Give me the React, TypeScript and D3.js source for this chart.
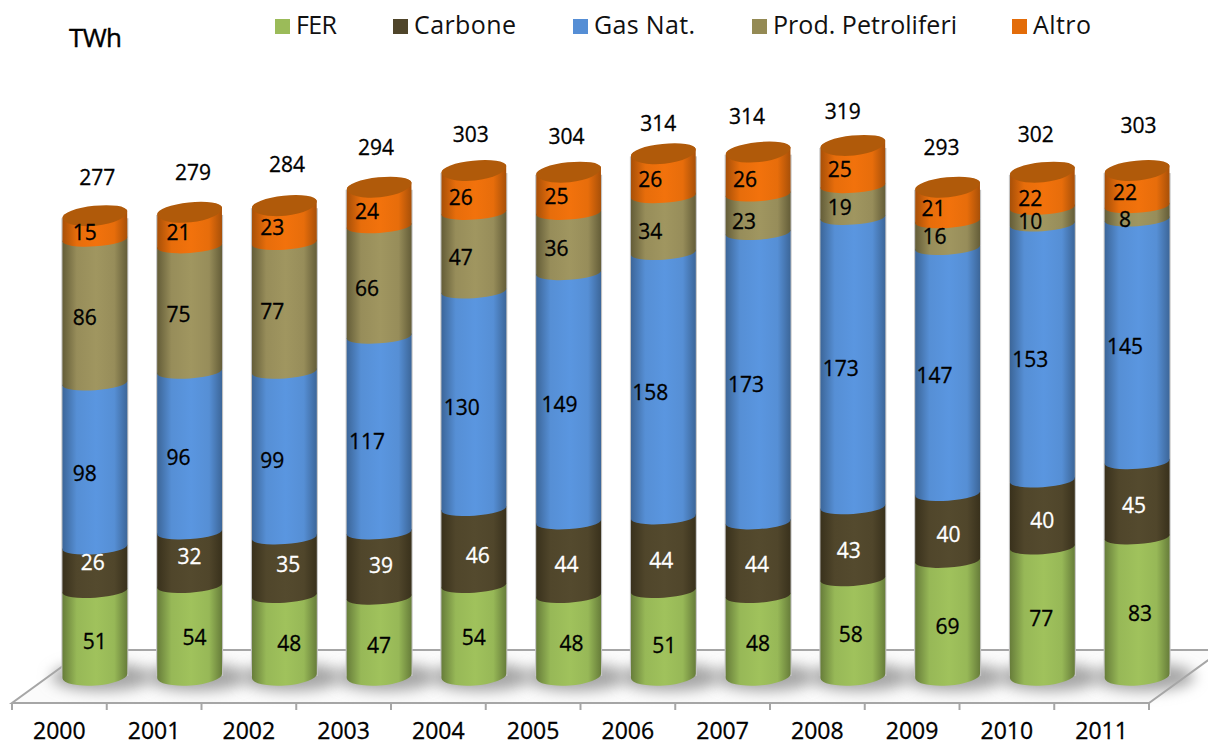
import { useEffect, useRef } from "react";
import * as d3 from "d3";

const years = ["2000", "2001", "2002", "2003", "2004", "2005", "2006", "2007", "2008", "2009", "2010", "2011"];
const totals = [277, 279, 284, 294, 303, 304, 314, 314, 319, 293, 302, 303];

const fer = [51, 54, 48, 47, 54, 48, 51, 48, 58, 69, 77, 83];
const carbone = [26, 32, 35, 39, 46, 44, 44, 44, 43, 40, 40, 45];
const gasNat = [98, 96, 99, 117, 130, 149, 158, 173, 173, 147, 153, 145];
const prodPetroliferi = [86, 75, 77, 66, 47, 36, 34, 23, 19, 16, 10, 8];
const altro = [15, 21, 23, 24, 26, 25, 26, 26, 25, 21, 22, 22];

const seriesNames = ["FER", "Carbone", "Gas Nat.", "Prod. Petroliferi", "Altro"];
const seriesValues = [fer, carbone, gasNat, prodPetroliferi, altro];

const swatchColors = ["#9bbb59", "#4f452a", "#558ed5", "#948a54", "#e36c09"];
const midColors = ["#a0c25c", "#544a2e", "#5a96e0", "#a09660", "#f2720c"];
const edgeColors = ["#677d3a", "#39311c", "#3c6699", "#645d38", "#a85008"];
const labelColors = ["#000", "#fff", "#000", "#000", "#000"];
const legendX = [275, 393, 573, 752, 1012];
const legendWidths = [41, 102, 101, 184, 58];

// the labels were placed by hand in the original, so each one gets a nudge
const labelDx = [
  [0, 5, 5, 0, 0, 3, 1, 0, -2, 0, -1, 3],
  [-2, 0, 4, 2, 4, -2, -2, -1, -4, 1, 0, -3],
  [-10, -11, -12, -12, -12, -9, -13, -12, -12, -13, -12, -12],
  [-10, -11, -12, -12, -13, -12, -13, -14, -13, -13, -12, -12],
  [-10, -11, -12, -12, -13, -12, -13, -13, -13, -14, -12, -12],
];
const labelDy = [
  [8, 7, 8, 9, 7, 8, 12, 8, 7, 8, 7, 7],
  [-6, -2, -2, 1, 8, 6, 7, 6, 7, 7, 7, 6],
  [8, 6, 6, 7, 7, 7, 8, 7, 6, 5, 7, 6],
  [6, 6, 4, 7, 6, 6, 7, 8, 6, 2, 6, 7],
  [6, 4, 4, 6, 7, 5, 5, 7, 5, 5, 9, 5],
];
const totalDx = [2.5, 3.5, 2.7, -3, -3, -2, -5, -11, -10, -6, -6.5, 1.5];
const totalDy = [-37, -38, -40, -38, -35, -34, -29, -34, -33, -38, -36, -44];

const W = 1208;
const H = 742;
const FONT = "'Open Sans', 'Noto Sans', sans-serif";

const App = () => {
  const ref = useRef<SVGSVGElement>(null);

  useEffect(() => {
    const svg = d3.select(ref.current);
    svg.selectAll("*").remove();

    const floorY = 703;
    const depthX = 73;
    const depthY = 53;
    const barShiftX = 35.5;
    const barRx = 32.5;
    const tilt = -4;
    const capTilt = -6;
    const sideRy = 7; // the joints between the segments
    const bottomRy = 9.5;

    const x = d3.scaleBand().domain(years).range([12, 1149]);
    const y = d3.scaleLinear().domain([0, 100]).range([676, 676 - 167.3]);
    const cx = (i: number) => x(years[i])! + x.bandwidth() / 2 + barShiftX;

    const rad = (tilt * Math.PI) / 180;
    const ex = barRx * Math.cos(rad);
    const ey = barRx * Math.sin(rad);
    const capRad = (capTilt * Math.PI) / 180;
    const capEx = barRx * Math.cos(capRad);
    const capEy = barRx * Math.sin(capRad);

    const defs = svg.append("defs");
    seriesNames.forEach((_, s) => {
      const g = defs.append("linearGradient").attr("id", `cyl${s}`);
      const near = d3.interpolateRgb(edgeColors[s], midColors[s])(0.85);
      g.append("stop").attr("offset", "0%").attr("stop-color", edgeColors[s]);
      g.append("stop").attr("offset", "22%").attr("stop-color", near);
      g.append("stop").attr("offset", "52%").attr("stop-color", midColors[s]);
      g.append("stop").attr("offset", "80%").attr("stop-color", near);
      g.append("stop").attr("offset", "100%").attr("stop-color", edgeColors[s]);
    });
    defs
      .append("filter")
      .attr("id", "soft")
      .attr("x", "-50%")
      .attr("y", "-100%")
      .attr("width", "200%")
      .attr("height", "300%")
      .append("feGaussianBlur")
      .attr("stdDeviation", 7);

    // floor
    svg
      .append("path")
      .attr("d", `M12,${floorY}H1149L${1149 + depthX},${floorY - depthY}H${12 + depthX}Z`)
      .attr("fill", "#fbfbfb")
      .attr("stroke", "#a6a6a6")
      .attr("stroke-width", 2);

    // ticks between the years
    const axis = svg.append("g").attr("transform", `translate(0,${floorY})`);
    d3.range(years.length + 1).forEach((i) => {
      const tx = 12 + i * x.step();
      axis.append("line").attr("x1", tx).attr("x2", tx).attr("y1", 0).attr("y2", 7).attr("stroke", "#a6a6a6").attr("stroke-width", 2);
    });
    years.forEach((yr) => {
      axis
        .append("text")
        .attr("x", x(yr)! + x.bandwidth() / 2)
        .attr("y", 36)
        .attr("text-anchor", "middle")
        .style("font-family", FONT)
        .style("font-size", "23px")
        .attr("fill", "#000")
        .attr("stroke", "#000")
        .attr("stroke-width", 0.3)
        .text(yr);
    });

    // shadows
    years.forEach((_, i) => {
      svg
        .append("ellipse")
        .attr("cx", cx(i) + 7)
        .attr("cy", y(0) + 1)
        .attr("rx", barRx + 18)
        .attr("ry", 14)
        .attr("fill", "#a6a6a6")
        .attr("filter", "url(#soft)");
    });

    // cylinders, bottom to top
    years.forEach((_, i) => {
      const c = cx(i);
      const total = d3.sum(seriesValues, (vals) => vals[i]);
      // thin pale rim along the sides
      svg
        .append("rect")
        .attr("x", c - barRx - 1)
        .attr("width", barRx * 2 + 2)
        .attr("y", y(total) + 4)
        .attr("height", y(0) - y(total) - 4)
        .attr("fill", "#c4c4c4");

      let cum = 0;
      seriesValues.forEach((vals, s) => {
        const y0 = y(cum);
        const y1 = y(cum + vals[i]);
        const lowRy = s === 0 ? bottomRy : sideRy;
        const isTop = s === seriesValues.length - 1;
        const topEx = isTop ? capEx : ex;
        const topEy = isTop ? capEy : ey;
        cum += vals[i];
        svg
          .append("path")
          .attr(
            "d",
            `M${c - ex},${y0 - ey}A${barRx},${lowRy} ${tilt} 0 0 ${c + ex},${y0 + ey}` +
              `L${c + topEx},${y1 + topEy}A${barRx},${sideRy} ${isTop ? capTilt : tilt} 0 0 ${c - topEx},${y1 - topEy}Z`
          )
          .attr("fill", `url(#cyl${s})`);
      });
      // cap: the near half of the opening looks deeper than the far half
      const top = y(cum);
      svg
        .append("path")
        .attr(
          "d",
          `M${c - capEx},${top - capEy}A${barRx},8.5 ${capTilt} 0 1 ${c + capEx},${top + capEy}` +
            `A${barRx},11.5 ${capTilt} 0 1 ${c - capEx},${top - capEy}Z`
        )
        .attr("fill", "#b05a0a");
    });

    // value labels
    years.forEach((_, i) => {
      let cum = 0;
      seriesValues.forEach((vals, s) => {
        svg
          .append("text")
          .attr("x", cx(i) + labelDx[s][i])
          .attr("y", y(cum + vals[i] / 2) + labelDy[s][i])
          .attr("dy", "0.36em")
          .attr("text-anchor", "middle")
          .style("font-family", FONT)
          .style("font-size", "21px")
          .attr("fill", labelColors[s])
          .attr("stroke", labelColors[s])
          .attr("stroke-width", 0.3)
          .text(vals[i]);
        cum += vals[i];
      });
      svg
        .append("text")
        .attr("x", cx(i) + totalDx[i])
        .attr("y", y(cum) + totalDy[i])
        .attr("dy", "0.36em")
        .attr("text-anchor", "middle")
        .style("font-family", FONT)
        .style("font-size", "21px")
        .attr("fill", "#000")
        .attr("stroke", "#000")
        .attr("stroke-width", 0.3)
        .text(totals[i]);
    });

    // legend
    seriesNames.forEach((name, s) => {
      svg.append("rect").attr("x", legendX[s]).attr("y", 19).attr("width", 15).attr("height", 15).attr("fill", swatchColors[s]);
      svg
        .append("text")
        .attr("x", legendX[s] + 21)
        .attr("y", 34)
        .attr("textLength", legendWidths[s])
        .style("font-family", FONT)
        .style("font-size", "25px")
        .attr("fill", "#111")
        .text(name);
    });

    svg
      .append("text")
      .attr("x", 69)
      .attr("y", 47)
      .attr("textLength", 53)
      .style("font-family", FONT)
      .style("font-size", "26px")
      .attr("fill", "#000")
      .attr("stroke", "#000")
      .attr("stroke-width", 0.4)
      .text("TWh");
  }, []);

  return <svg ref={ref} width={W} height={H} style={{ position: "absolute", left: 0, top: 0, background: "#fff" }} />;
};

export default App;
